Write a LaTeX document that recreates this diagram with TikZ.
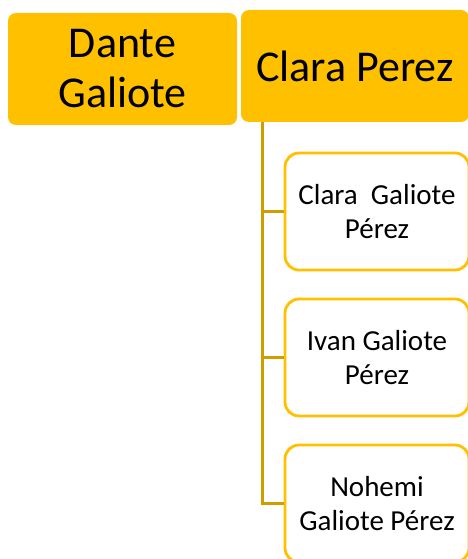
\documentclass[tikz,border=0pt]{standalone}
\usepackage{fontspec}
\setmainfont{Carlito}
\definecolor{gold}{HTML}{FFC000}
\definecolor{trunkgold}{HTML}{D09C00}
\tikzset{
  topbox/.style={fill=gold, draw=none, rounded corners=8pt, align=center,
    font=\fontsize{44}{50}\selectfont, inner sep=0pt},
  childbox/.style={fill=white, draw=gold, line width=2.8pt, rounded corners=14pt,
    align=center, font=\fontsize{29}{34}\selectfont, inner sep=0pt,
    minimum width=184pt, minimum height=117pt},
  conn/.style={draw=trunkgold, line width=2.8pt}
}
\begin{document}
\begin{tikzpicture}[x=1pt,y=-1pt]
\useasboundingbox (0,0) rectangle (468,559);
\node[topbox, minimum width=229pt, minimum height=112pt] (dg) at (122.5,69) {Dante\\Galiote};
\node[topbox, minimum width=228pt, minimum height=112pt] (cp) at (355,66) {Clara Perez};
\node[childbox] (c1) at (377,211.5) {Clara\ \ Galiote\\Pérez};
\node[childbox] (c2) at (377,357.5) {Ivan Galiote\\Pérez};
\node[childbox] (c3) at (377,503.5) {Nohemi\\Galiote Pérez};
\coordinate (trunk) at (cp.south -| 262.5,0);
\draw[conn] (trunk) |- (c3.west);
\draw[conn] (trunk |- c1.west) -- (c1.west);
\draw[conn] (trunk |- c2.west) -- (c2.west);
\end{tikzpicture}
\end{document}
